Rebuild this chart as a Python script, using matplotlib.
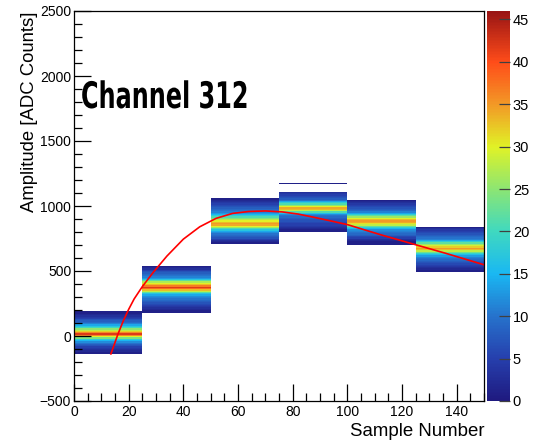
import numpy as np
import matplotlib.pyplot as plt
from matplotlib.colors import LinearSegmentedColormap
from matplotlib.ticker import MultipleLocator
from matplotlib.patheffects import AbstractPathEffect
from matplotlib.transforms import Affine2D

plt.rcParams['font.family'] = ['Liberation Sans', 'DejaVu Sans']

# x bins (sample number) and y bin width (ADC counts)
sample_edges = [0, 25, 50, 75, 100, 125, 150]
adc_step = 10

# counts per ADC row for each sample bin, starting at the given ADC value
bin0_start = -140
bin0_counts = [1, 1, 2, 3, 4, 5, 7, 8, 10, 12, 15, 18, 24, 30, 36, 42, 36, 32, 28, 25,
               20, 17, 14, 11, 9, 8, 7, 5, 4, 3, 2, 1, 1]
bin1_start = 180
bin1_counts = [1, 1, 2, 3, 4, 5, 6, 7, 8, 9, 10, 11, 12, 14, 17, 22, 28, 33, 38, 42,
               37, 33, 30, 27, 22, 17, 13, 11, 10, 9, 8, 7, 5, 3, 2, 1]
bin2_start = 710
bin2_counts = [1, 2, 3, 5, 7, 8, 9, 10, 12, 14, 17, 21, 26, 30, 34, 35, 33, 30, 27, 24,
               21, 18, 15, 13, 11, 10, 9, 8, 7, 6, 5, 4, 3, 2, 1]
bin3_start = 800
bin3_counts = [1, 1, 2, 3, 4, 5, 5, 6, 7, 7, 8, 9, 10, 12, 16, 21, 28, 33, 34, 30,
               25, 21, 18, 14, 10, 8, 7, 6, 5, 4, 3, 0, 0, 0, 0, 0, 0, 1]
bin4_start = 700
bin4_counts = [1, 1, 1, 2, 3, 5, 6, 8, 9, 10, 11, 12, 15, 18, 22, 28, 31, 34, 35, 33,
               30, 26, 22, 18, 14, 11, 9, 8, 7, 6, 5, 4, 3, 2, 1]
bin5_start = 490
bin5_counts = [1, 1, 2, 3, 4, 5, 6, 7, 8, 9, 10, 11, 13, 16, 19, 23, 28, 33, 35, 32,
               29, 26, 22, 18, 14, 11, 10, 9, 8, 7, 6, 5, 4, 3, 1]

# fitted pulse shape
fit_x = [13.5, 16, 18, 20, 22, 25, 29, 34, 40, 46, 52, 58, 64, 70, 76, 82, 88, 94,
         100, 112, 124, 136, 150]
fit_y = [-138, 10, 115, 205, 285, 380, 490, 615, 745, 840, 905, 943, 958, 962, 955,
         938, 912, 885, 857, 780, 708, 636, 548]

starts = [bin0_start, bin1_start, bin2_start, bin3_start, bin4_start, bin5_start]
counts = [bin0_counts, bin1_counts, bin2_counts, bin3_counts, bin4_counts, bin5_counts]

adc_edges = np.arange(-500, 2500 + adc_step, adc_step)
H = np.zeros((len(adc_edges) - 1, len(sample_edges) - 1))
for i, (s, c) in enumerate(zip(starts, counts)):
    j0 = (s - adc_edges[0]) // adc_step
    H[j0:j0 + len(c), i] = c
H = np.ma.masked_equal(H, 0)

cmap = LinearSegmentedColormap.from_list('rootrainbow', [
    (0.0, (0.12, 0.10, 0.50)),
    (0.109, (0.15, 0.25, 0.68)),
    (0.217, (0.15, 0.45, 0.80)),
    (0.326, (0.10, 0.72, 0.95)),
    (0.435, (0.25, 0.85, 0.75)),
    (0.543, (0.55, 0.90, 0.45)),
    (0.652, (0.88, 0.95, 0.15)),
    (0.761, (0.95, 0.60, 0.15)),
    (0.870, (1.00, 0.30, 0.10)),
    (1.0, (0.60, 0.08, 0.08)),
], N=256)


class Squeeze(AbstractPathEffect):
    # narrows glyphs horizontally around the text anchor (condensed look)
    def __init__(self, text, sx):
        super().__init__()
        self.text = text
        self.sx = sx

    def draw_path(self, renderer, gc, tpath, affine, rgbFace=None):
        x0 = self.text.get_transform().transform(self.text.get_position())[0]
        squeeze = Affine2D().translate(-x0, 0).scale(self.sx, 1).translate(x0, 0)
        renderer.draw_path(gc, tpath, affine + squeeze, rgbFace)


fig = plt.figure(figsize=(5.41, 4.41), dpi=100)
ax = fig.add_axes([74 / 541, 40 / 441, 410 / 541, 390 / 441])
cax = fig.add_axes([487 / 541, 40 / 441, 23 / 541, 390 / 441])

mesh = ax.pcolormesh(sample_edges, adc_edges, H, cmap=cmap, vmin=0, vmax=46)
ax.plot(fit_x, fit_y, color='red', lw=1.2)

ax.set_xlim(0, 150)
ax.set_ylim(-500, 2500)
ax.xaxis.set_major_locator(MultipleLocator(20))
ax.xaxis.set_minor_locator(MultipleLocator(5))
ax.yaxis.set_major_locator(MultipleLocator(500))
ax.yaxis.set_minor_locator(MultipleLocator(100))
ax.tick_params(which='both', direction='in', top=False, right=False, labelsize=10)
ax.tick_params(which='major', length=12, width=0.9)
ax.tick_params(which='minor', length=6, width=0.9)
ax.tick_params(axis='y', pad=2)
ax.tick_params(axis='x', pad=3)
for sp in ax.spines.values():
    sp.set_linewidth(0.9)

ax.set_xlabel('Sample Number', fontsize=13.4, loc='right', labelpad=3)
ax.set_ylabel('Amplitude [ADC Counts]', fontsize=13.3, loc='top', labelpad=1)

title = fig.text(81 / 541, 1 - 108 / 441, 'Channel 312', fontsize=26.3,
                 fontweight='bold', family='DejaVu Sans', va='baseline')
title.set_path_effects([Squeeze(title, 0.655)])

cb = fig.colorbar(mesh, cax=cax)
cb.set_ticks(range(0, 46, 5))
cb.outline.set_visible(False)
cax.tick_params(direction='in', length=8, width=0.9, color='0.25', labelsize=10.5, pad=2)
cax.minorticks_off()

fig.savefig('out.png', dpi=100)
